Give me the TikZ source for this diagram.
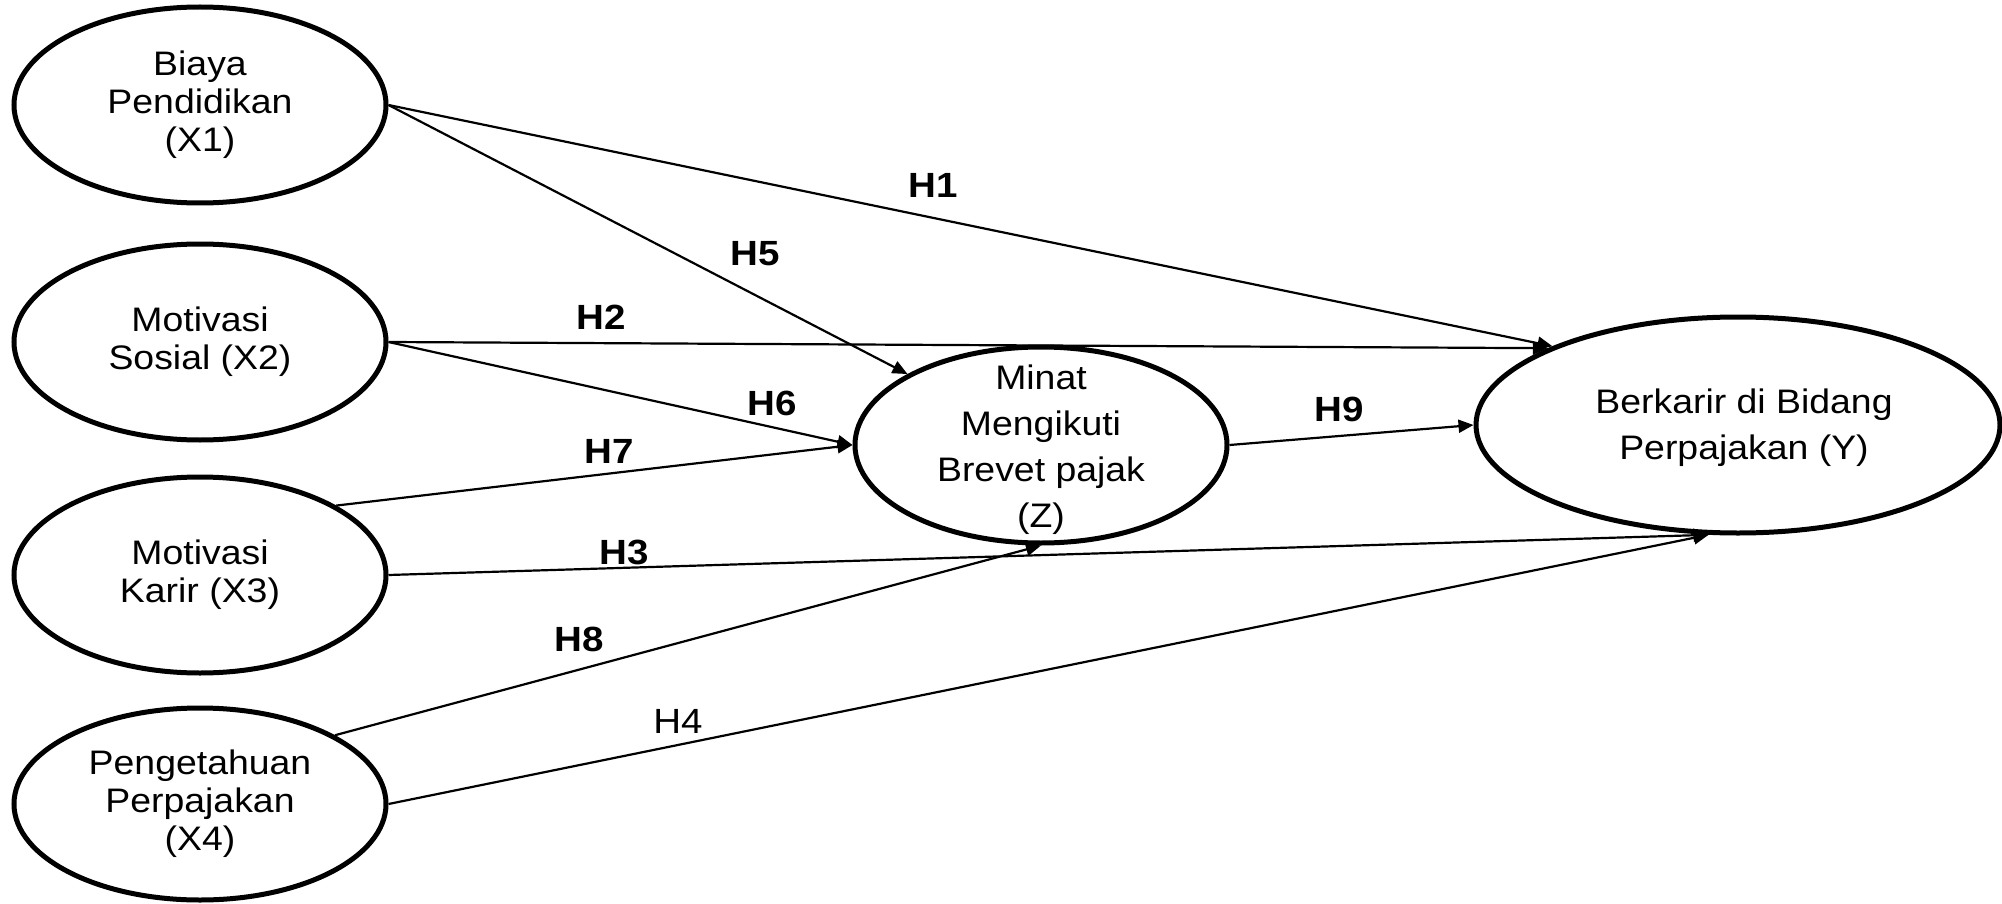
\documentclass[tikz,border=0pt]{standalone}
\usepackage{fontspec}
\setmainfont{Liberation Sans}[FakeStretch=1.1]
\usetikzlibrary{shapes.geometric,arrows.meta}

\begin{document}
\begin{tikzpicture}[x=1pt,y=-1pt,
  construct/.style={draw, ellipse, line width=5pt, inner sep=0pt},
  ctext/.style={align=center, inner sep=0pt, font=\fontsize{34}{38}\selectfont},
  wtext/.style={align=center, inner sep=0pt, font=\fontsize{34}{46}\selectfont},
  link/.style={line width=2.2pt, -{Triangle[length=15pt,width=13pt]}},
  hyp/.style={inner sep=0pt, font=\fontsize{35}{40}\selectfont\bfseries},
  hypplain/.style={inner sep=0pt, font=\fontsize{35}{40}\selectfont},
]
\useasboundingbox (0,0) rectangle (2002,904);

% exogenous constructs
\node[construct, minimum width=372pt, minimum height=196pt] (x1) at (200,105) {};
\node[ctext] (x1t) at (x1) {Biaya\\Pendidikan\\(X1)};
\node[construct, minimum width=372pt, minimum height=196pt] (x2) at (200,342) {};
\node[ctext] (x2t) at (x2) {Motivasi\\Sosial (X2)};
\node[construct, minimum width=372pt, minimum height=196pt] (x3) at (200,575) {};
\node[ctext] (x3t) at (x3) {Motivasi\\Karir (X3)};
\node[construct, minimum width=372pt, minimum height=192pt] (x4) at (200,804) {};
\node[ctext] (x4t) at (x4) {Pengetahuan\\Perpajakan\\(X4)};

% intervening and outcome constructs
\node[construct, minimum width=372pt, minimum height=196pt] (z) at (1041,445) {};
\node[wtext] (zt) at (1041,450) {Minat\\Mengikuti\\Brevet pajak\\(Z)};
\node[construct, minimum width=524pt, minimum height=216pt] (y) at (1738,425) {};
\node[wtext] (yt) at (1744,428) {Berkarir di Bidang\\Perpajakan (Y)};

% hypothesised paths
\draw[link] (x1.east) -- (y.157);
\draw[link] (x1.east) -- (z.152);
\draw[link] (x2.east) -- (y.158);
\draw[link] (x2.east) -- (z.west);
\draw[link] (x3.27) -- (z.west);
\draw[link] (x3.east) -- (y.255);
\draw[link] (x4.27) -- (z.south);
\draw[link] (x4.east) -- (y.255);
\draw[link] (z.east) -- (y.west);

% path labels
\node[hyp] (h1) at (933,185) {H1};
\node[hyp] (h5) at (755,254) {H5};
\node[hyp] (h2) at (601,317) {H2};
\node[hyp] (h6) at (772,403) {H6};
\node[hyp] (h7) at (609,451) {H7};
\node[hyp] (h3) at (624,552) {H3};
\node[hyp] (h8) at (579,639) {H8};
\node[hypplain] (h4) at (678,721) {H4};
\node[hyp] (h9) at (1339,409) {H9};
\end{tikzpicture}
\end{document}
